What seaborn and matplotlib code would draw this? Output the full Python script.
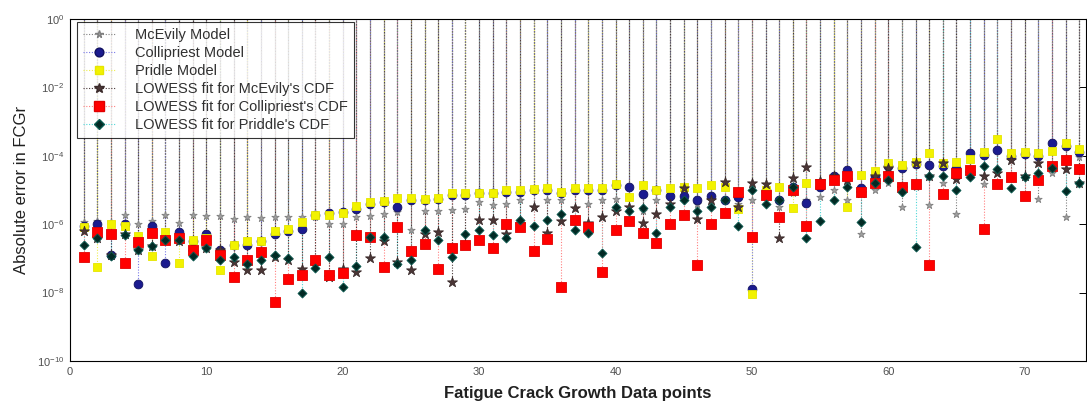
import numpy as np
import pandas as pd
import matplotlib
matplotlib.use("Agg")
import matplotlib.pyplot as plt
import seaborn as sns
from matplotlib.lines import Line2D
from matplotlib.legend_handler import HandlerLine2D
from matplotlib.ticker import FixedLocator, LogFormatterSciNotation, NullLocator

# Data point index along the fatigue crack growth record
data_points = list(range(1, 75))

# Absolute FCGr errors, stored as log10 values
mcevily_log10 = [
    -5.95, -5.90, -5.93, -5.73, -6.00, -5.90, -5.73, -5.96, -5.73, -5.75,
    -5.76, -5.85, -5.80, -5.82, -5.80, -5.78, -5.78, -5.80, -6.00, -6.00,
    -5.80, -5.75, -5.70, -5.65, -6.17, -5.60, -5.60, -5.58, -5.55, -5.35,
    -5.45, -5.40, -5.30, -5.50, -5.30, -5.30, -5.54, -5.40, -5.30, -5.25,
    -5.20, -5.60, -5.30, -5.20, -5.20, -5.40, -5.20, -5.30, -5.40, -5.30,
    -5.20, -5.50, -5.10, -5.30, -5.20, -5.00, -5.30, -6.30, -5.00, -4.80,
    -5.51, -4.90, -5.44, -4.80, -5.70, -4.60, -4.81, -4.50, -4.60, -5.20,
    -5.25, -4.50, -5.78, -4.03,
]
collipriest_log10 = [
    -6.05, -5.98, -6.90, -6.00, -7.76, -6.05, -7.12, -6.23, -6.50, -6.29,
    -6.75, -6.60, -6.60, -6.50, -6.30, -6.20, -6.14, -5.72, -5.66, -5.63,
    -5.55, -5.40, -5.35, -5.49, -5.30, -5.30, -5.25, -5.15, -5.15, -5.10,
    -5.10, -5.05, -5.05, -5.00, -5.00, -5.10, -5.00, -5.00, -5.00, -4.85,
    -4.90, -5.12, -5.00, -5.17, -5.17, -5.30, -5.19, -5.30, -5.20, -7.90,
    -5.00, -5.30, -4.90, -5.39, -4.90, -4.60, -4.42, -4.95, -4.60, -4.30,
    -4.35, -4.25, -4.27, -4.30, -4.37, -3.93, -3.98, -3.83, -4.00, -3.95,
    -4.00, -3.64, -3.70, -3.90,
]
pridle_log10 = [
    -6.09, -7.24, -6.00, -6.04, -6.35, -6.93, -6.22, -7.14, -6.46, -6.40,
    -7.34, -6.60, -6.50, -6.50, -6.20, -6.13, -5.95, -5.73, -5.72, -5.68,
    -5.46, -5.34, -5.33, -5.24, -5.22, -5.26, -5.22, -5.10, -5.10, -5.08,
    -5.08, -5.00, -5.00, -4.98, -4.95, -5.05, -4.95, -4.95, -4.95, -4.81,
    -5.20, -4.85, -5.00, -4.95, -4.90, -4.95, -4.85, -4.90, -5.57, -8.05,
    -5.00, -4.90, -5.54, -4.80, -4.80, -4.70, -5.50, -4.56, -4.45, -4.20,
    -4.27, -4.17, -3.93, -4.20, -4.17, -4.10, -3.88, -3.52, -3.91, -3.88,
    -3.91, -3.85, -3.62, -3.80,
]
lowess_mcevily_log10 = [
    -6.20, -6.40, -6.90, -6.30, -6.75, -6.64, -6.45, -6.50, -6.80, -6.70,
    -6.75, -7.10, -7.34, -7.34, -6.95, -7.05, -7.30, -7.20, -7.53, -7.30,
    -7.39, -7.00, -6.50, -7.10, -7.34, -6.30, -6.22, -7.68, -6.60, -5.88,
    -5.88, -6.30, -6.00, -5.50, -6.27, -5.90, -5.54, -5.96, -5.78, -5.60,
    -5.51, -5.96, -5.70, -5.40, -4.95, -5.86, -5.30, -4.76, -5.49, -4.80,
    -4.82, -6.41, -4.66, -4.34, -4.75, -4.60, -4.71, -5.10, -4.60, -4.37,
    -4.95, -4.20, -4.60, -4.20, -4.69, -4.50, -4.60, -4.50, -4.12, -4.60,
    -4.20, -4.32, -4.40, -4.79,
]
lowess_collipriest_log10 = [
    -6.95, -6.22, -6.29, -7.13, -6.51, -6.27, -6.47, -6.40, -6.75, -6.47,
    -6.90, -7.53, -7.05, -6.80, -8.27, -7.60, -7.49, -7.05, -7.49, -7.44,
    -6.32, -6.36, -7.24, -6.09, -6.77, -6.57, -7.31, -6.69, -6.60, -6.46,
    -6.69, -6.00, -6.09, -6.78, -6.42, -7.83, -5.88, -6.07, -7.39, -6.17,
    -5.90, -6.25, -6.54, -5.99, -5.73, -7.19, -6.00, -5.68, -5.05, -6.37,
    -5.14, -5.80, -5.00, -6.05, -4.83, -4.71, -4.60, -5.05, -4.80, -4.60,
    -4.92, -4.83, -7.19, -5.13, -4.50, -4.42, -6.15, -4.83, -4.63, -5.18,
    -4.71, -4.30, -4.12, -4.40,
]
lowess_priddle_log10 = [
    -6.62, -6.39, -6.93, -6.32, -6.75, -6.64, -6.45, -6.47, -6.94, -6.70,
    -7.05, -6.95, -7.15, -7.05, -6.90, -7.00, -8.02, -7.28, -6.95, -7.83,
    -7.22, -6.36, -6.36, -7.15, -7.05, -6.17, -6.46, -6.95, -6.30, -6.17,
    -6.31, -6.40, -5.88, -6.06, -5.88, -5.71, -6.17, -6.27, -6.83, -5.49,
    -5.60, -5.52, -6.27, -5.51, -5.30, -5.60, -5.50, -5.29, -6.05, -5.00,
    -5.41, -5.29, -4.90, -6.41, -5.90, -5.29, -4.90, -5.93, -4.80, -4.71,
    -5.05, -6.66, -4.60, -4.59, -5.00, -4.61, -4.30, -4.40, -4.95, -4.61,
    -4.50, -4.35, -5.02, -4.80,
]

series_labels = [
    "McEvily Model",
    "Collipriest Model",
    "Pridle Model",
    "LOWESS fit for McEvily's CDF",
    "LOWESS fit for Collipriest's CDF",
    "LOWESS fit for Priddle's CDF",
]
series_log10 = [
    mcevily_log10, collipriest_log10, pridle_log10,
    lowess_mcevily_log10, lowess_collipriest_log10, lowess_priddle_log10,
]

# marker, face colour, edge colour, marker size (pt), stem colour
styles = [
    ("*", "#a0a0a0", "#808080", 5.5, "#808080"),
    ("o", "#1b1b8f", "#101060", 6.3, "#7a7ae8"),
    ("s", "#f2f200", "#e6e600", 6.3, "#eeee50"),
    ("*", "#4a3636", "#3a2a2a", 7.5, "#4a3a3a"),
    ("s", "#ff0000", "#e00000", 7.0, "#ff8080"),
    ("D", "#022a24", "#0a5a50", 4.6, "#50d8d8"),
]
# stems are layered so the grey ones end up on top
stem_order = [5, 4, 2, 1, 3, 0]

frames = []
for label, vals in zip(series_labels, series_log10):
    frames.append(pd.DataFrame({
        "point": data_points,
        "error": np.power(10.0, np.asarray(vals)),
        "series": label,
    }))
df = pd.concat(frames, ignore_index=True)

sns.set_style("white")
plt.rcParams["font.family"] = ["Liberation Sans", "DejaVu Sans"]
plt.rcParams["mathtext.fontset"] = "custom"
plt.rcParams["mathtext.rm"] = "Liberation Sans"

fig = plt.figure(figsize=(10.87, 4.03), dpi=100)
ax = fig.add_axes([70 / 1087, 42 / 403, 1016 / 1087, 342 / 403])
ax.set_yscale("log")

# stem lines hanging from the top of the axes down to each value
for i in stem_order:
    label = series_labels[i]
    sc = styles[i][4]
    sub = df[df["series"] == label]
    ax.vlines(sub["point"], sub["error"], 1.0, colors=sc,
              linestyles=(0, (1, 1.5)), linewidth=0.8, zorder=1)

for (label, (mk, fc, ec, ms, sc)) in zip(series_labels, styles):
    sub = df[df["series"] == label]
    sns.scatterplot(data=sub, x="point", y="error", marker=mk, color=fc,
                    edgecolor=ec, linewidth=0.6, s=ms ** 2, ax=ax,
                    legend=False, zorder=3)

ax.set_xlim(0, 74.5)
ax.set_ylim(1e-10, 1e0)
ax.xaxis.set_major_locator(FixedLocator([0, 10, 20, 30, 40, 50, 60, 70]))
ax.yaxis.set_major_locator(FixedLocator([1e-10, 1e-8, 1e-6, 1e-4, 1e-2, 1e0]))
ax.yaxis.set_major_formatter(LogFormatterSciNotation())
ax.yaxis.set_minor_locator(NullLocator())

ax.tick_params(axis="both", which="major", direction="in", length=5,
               width=0.7, top=True, right=True, labelsize=8,
               labelcolor="#505050", color="black", pad=4)
for sp in ax.spines.values():
    sp.set_color("black")
    sp.set_linewidth(0.8)

ax.set_xlabel("Fatigue Crack Growth Data points", fontsize=12,
              fontweight="bold", color="#202020", labelpad=7)
ax.set_ylabel("Absolute error in FCGr", fontsize=12, color="#202020",
              labelpad=6)


class StemLegendHandler(HandlerLine2D):
    """Legend entry with the marker sitting at the end of the stem line."""

    def get_xdata(self, legend, xdescent, ydescent, width, height, fontsize):
        xdata = [-xdescent, -xdescent + width]
        return xdata, [-xdescent + width]


handles = []
for (label, (mk, fc, ec, ms, sc)) in zip(series_labels, styles):
    handles.append(Line2D([0], [0], color=sc, linestyle=(0, (1, 1.5)),
                          linewidth=0.8, marker=mk, markerfacecolor=fc,
                          markeredgecolor=ec, markersize=ms))
leg = ax.legend(handles, series_labels, loc="upper left",
                bbox_to_anchor=(0.007, 0.991), borderaxespad=0,
                fontsize=10.5, frameon=True, fancybox=False,
                edgecolor="black", handlelength=2.2, labelspacing=0.28,
                borderpad=0.4, handletextpad=1.4, numpoints=1,
                handler_map={Line2D: StemLegendHandler()})
leg.get_frame().set_linewidth(0.8)
for t in leg.get_texts():
    t.set_color("#303030")

fig.savefig("out.png", dpi=100)
